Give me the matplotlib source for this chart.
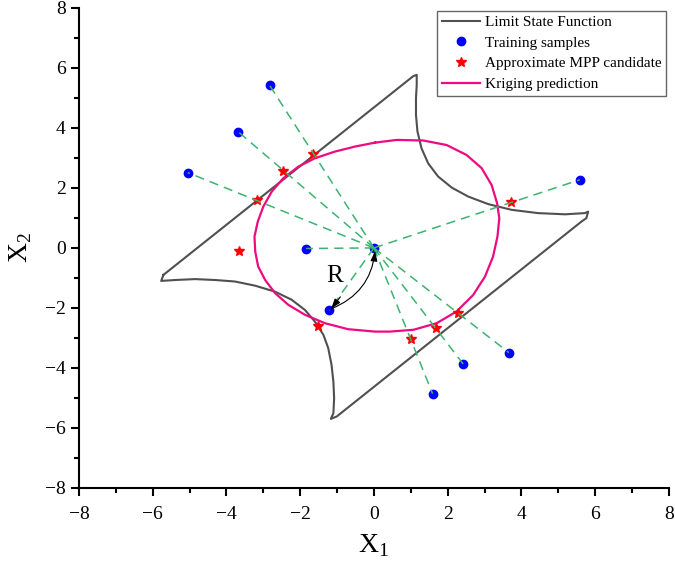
import numpy as np
import matplotlib.pyplot as plt
from matplotlib.ticker import MultipleLocator

plt.rcParams['font.family'] = ['Liberation Serif', 'DejaVu Serif']
plt.rcParams['mathtext.fontset'] = 'custom'
plt.rcParams['mathtext.rm'] = 'Liberation Serif'

# training samples (first one is the centre point)
train_x1 = [0.0, -2.83, -3.69, -5.05, -1.84, -1.21, 5.58, 3.66, 2.42, 1.59]
train_x2 = [0.0, 5.42, 3.88, 2.51, -0.02, -2.08, 2.27, -3.49, -3.87, -4.86]

# approximate MPP candidates
mpp_x1 = [-1.64, -2.46, -3.16, -3.66, -1.51, 1.00, 1.67, 2.28, 3.71]
mpp_x2 = [3.12, 2.58, 1.60, -0.09, -2.59, -3.04, -2.67, -2.17, 1.52]

# limit state function (traced outline)
lsf_x1 = [-5.71, 1.06, 1.16, 1.16, 1.14, 1.14, 1.18, 1.29, 1.47, 1.74, 2.11, 2.56,
          3.10, 3.73, 4.45, 5.18, 5.72, 5.81, 5.76, 5.63,
          -1.01, -1.17, -1.10, -1.08, -1.10, -1.15, -1.24, -1.37, -1.60, -1.87,
          -2.23, -2.68, -3.22, -3.77, -4.31, -4.85, -5.39, -5.77, -5.71]
lsf_x2 = [-0.90, 5.72, 5.77, 5.43, 4.99, 4.43, 3.88, 3.32, 2.82, 2.38, 2.01, 1.71,
          1.46, 1.27, 1.16, 1.12, 1.16, 1.21, 0.99, 0.88,
          -5.62, -5.70, -5.51, -5.01, -4.46, -3.90, -3.34, -2.90, -2.46, -2.07,
          -1.73, -1.46, -1.26, -1.12, -1.07, -1.04, -1.07, -1.10, -0.90]

# kriging prediction (traced outline)
krig_x1 = [0.03, -0.51, -1.06, -1.60, -2.05, -2.46, -2.77, -3.00, -3.15, -3.24,
           -3.22, -3.14, -2.95, -2.68, -2.32, -1.87, -1.33, -0.70, 0.03, 0.43,
           1.07, 1.70, 2.24, 2.69, 3.01, 3.23, 3.35, 3.40, 3.34, 3.19,
           2.92, 2.51, 1.97, 1.34, 0.62, 0.03]
krig_x2 = [3.51, 3.38, 3.21, 2.99, 2.71, 2.32, 1.88, 1.38, 0.88, 0.38,
           -0.12, -0.62, -1.07, -1.51, -1.90, -2.23, -2.51, -2.71, -2.79, -2.79,
           -2.73, -2.51, -2.12, -1.57, -0.96, -0.29, 0.38, 0.99, 1.49, 2.10,
           2.66, 3.10, 3.43, 3.58, 3.60, 3.51]

fig = plt.figure(figsize=(6.75, 5.66), dpi=100)
ax = fig.add_axes([0.117, 0.138, 0.874, 0.848])

ax.plot(lsf_x1, lsf_x2, color='#505050', lw=1.5, label='Limit State Function')
ax.plot(train_x1, train_x2, 'o', color='#0000ff', ms=6, label='Training samples', zorder=3)
ax.plot(mpp_x1, mpp_x2, '*', color='#ff0000', ms=7, label='Approximate MPP candidate', zorder=3)
ax.plot(krig_x1, krig_x2, color='#ee0a80', lw=1.6, solid_joinstyle='round',
        label='Kriging prediction')

# dashed rays from the centre sample
for i in range(1, len(train_x1)):
    ax.plot([train_x1[0], train_x1[i]], [train_x2[0], train_x2[i]],
            color='#3cb371', lw=1.1, dashes=(6, 4), zorder=4)

# curved arrow marking R
ax.annotate('', xy=(train_x1[0] + 0.03, train_x2[0] - 0.1),
            xytext=(train_x1[5] + 0.05, train_x2[5] + 0.05),
            arrowprops=dict(arrowstyle='-|>,head_length=0.6,head_width=0.2', color='k', lw=0.8,
                            connectionstyle='arc3,rad=0.3', shrinkA=0, shrinkB=0), zorder=5)
ax.annotate('', xy=(train_x1[5] + 0.05, train_x2[5] + 0.05),
            xytext=(train_x1[5] + 0.3, train_x2[5] + 0.45),
            arrowprops=dict(arrowstyle='-|>,head_length=0.6,head_width=0.2', color='k', lw=0.8,
                            shrinkA=0, shrinkB=0), zorder=5)
ax.text(-1.08, -0.95, 'R', fontsize=18, ha='center', va='center')

ax.set_xlim(-8, 8)
ax.set_ylim(-8, 8)
ax.xaxis.set_major_locator(MultipleLocator(2))
ax.yaxis.set_major_locator(MultipleLocator(2))
ax.xaxis.set_minor_locator(MultipleLocator(1))
ax.yaxis.set_minor_locator(MultipleLocator(1))
ax.tick_params(which='major', direction='out', length=6, width=1.5, labelsize=14)
ax.tick_params(which='minor', direction='out', length=3.5, width=1.5)
ax.tick_params(axis='x', which='major', pad=7)
ax.spines['top'].set_visible(False)
ax.spines['right'].set_visible(False)
ax.spines['left'].set_linewidth(1.5)
ax.spines['bottom'].set_linewidth(1.5)

ax.set_xlabel(r'X$_\mathrm{1}$', fontsize=20, labelpad=7)
ax.set_ylabel(r'X$_\mathrm{2}$', fontsize=20, labelpad=8)

leg = ax.legend(loc='upper right', fontsize=11, frameon=True, fancybox=False,
                borderaxespad=0.2, handlelength=2.5, handletextpad=0.3,
                labelspacing=0.45, borderpad=0.3)
leg.get_frame().set_edgecolor('#404040')
leg.get_frame().set_linewidth(1.0)

fig.savefig('out.png', dpi=100)
